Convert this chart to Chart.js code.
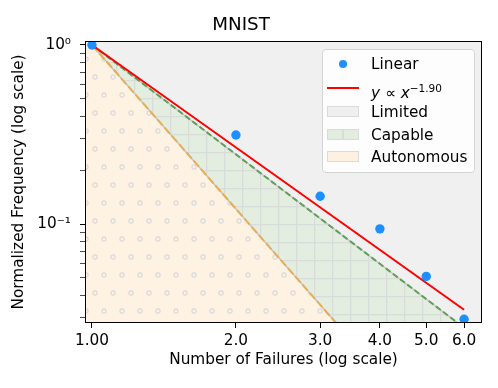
<!DOCTYPE html>
<html>
<head>
<meta charset="utf-8">
<script src="https://cdn.jsdelivr.net/npm/chart.js@4.4.1/dist/chart.umd.min.js"></script>
<style>
  body { margin: 0; background: #fff; }
  #wrap { position: relative; width: 498px; height: 388px; font-family: "DejaVu Sans", sans-serif; }
  #legend { position: absolute; left: 322px; top: 49px; width: 151px; height: 122px;
    border: 1px solid #d4d4d4; border-radius: 4px; background: rgba(255,255,255,0.85); }
  .row { position: absolute; left: 0; font-size: 15.3px; color: #000; }
  .lbl { position: absolute; left: 48px; white-space: nowrap; line-height: 18px; }
  .sw { position: absolute; left: 4px; width: 32px; height: 11px; border: 1px solid #dadada; box-sizing: border-box; }
  sup { font-size: 10.5px; vertical-align: 6px; }
</style>
</head>
<body>
<div id="wrap">
  <canvas id="chart" width="498" height="388"></canvas>
  <div id="legend">
    <div class="row" style="top:10px">
      <div style="position:absolute;left:16px;top:0;width:8px;height:8px;border-radius:50%;background:#1e8fff"></div>
      <div class="lbl" style="top:-5px">Linear</div>
    </div>
    <div class="row" style="top:37px">
      <div style="position:absolute;left:4px;top:0;width:32px;height:2px;background:#ff0000"></div>
      <div class="lbl" style="top:-8px"><i>y</i> ∝ <i>x</i><sup>−1.90</sup></div>
    </div>
    <div class="row" style="top:56px">
      <div class="sw" style="background:#efefef"></div>
      <div class="lbl" style="top:-3px">Limited</div>
    </div>
    <div class="row" style="top:79px">
      <div class="sw" style="background:linear-gradient(90deg,#e2ede0 47%,#d8dcd8 47%,#d8dcd8 53%,#e2ede0 53%)"></div>
      <div class="lbl" style="top:-3px">Capable</div>
    </div>
    <div class="row" style="top:101px">
      <div class="sw" style="background:#fdf2e1"></div>
      <div class="lbl" style="top:-3px">Autonomous</div>
    </div>
  </div>
</div>
<script>
// observed points
const failures = [1, 2, 3, 4, 5, 6];
const freqLinear = [1.0, 0.314, 0.143, 0.094, 0.051, 0.0294];

// power-law fit, y ∝ x^-1.90 (end points)
const fitX = [1, 6];
const fitY = [1, 0.0332];

// region boundaries
const capableX = [0.967, 1, 5.82];
const capableY = [1.07, 1, 0.028];
const autoX = [0.967, 1, 3.24];
const autoY = [1.107, 1, 0.028];

// axis limits and ticks
const xMin = 0.967, xMax = 6.54;
const yMin = 0.028, yMax = 1.053;
const xTicks = [1, 2, 3, 4, 5, 6];
const xTickLabels = ['1.00', '2.0', '3.0', '4.0', '5.0', '6.0'];
const yTicks = [0.03, 0.04, 0.05, 0.06, 0.07, 0.08, 0.09, 0.1, 0.2, 0.3, 0.4, 0.5, 0.6, 0.7, 0.8, 0.9, 1];
const yMajor = { 1: '10⁰', 0.1: '10⁻¹' };

const pts = (xs, ys) => xs.map((x, i) => ({ x, y: ys[i] }));
const FONT = 'DejaVu Sans';

function gridPattern(){
  const c = document.createElement('canvas'); c.width = 18; c.height = 18;
  const g = c.getContext('2d');
  g.fillStyle = '#e3eee1'; g.fillRect(0, 0, 18, 18);
  g.fillStyle = '#d9ddd9';
  g.fillRect(8, 0, 1.3, 18); g.fillRect(0, 8, 18, 1.3);
  return g.createPattern(c, 'repeat');
}
function dotPattern(){
  const c = document.createElement('canvas'); c.width = 18; c.height = 36;
  const g = c.getContext('2d');
  g.fillStyle = '#fef3e2'; g.fillRect(0, 0, 18, 36);
  g.strokeStyle = '#d9d8dc'; g.lineWidth = 1.2;
  for (const [cx, cy] of [[5, 5], [14, 23]]) {
    g.beginPath(); g.arc(cx, cy, 2.1, 0, Math.PI * 2); g.stroke();
  }
  return g.createPattern(c, 'repeat');
}

const frame = {
  id: 'frame',
  afterDatasetsDraw(chart){
    const { ctx, chartArea: a } = chart;
    ctx.save();
    ctx.strokeStyle = '#000'; ctx.lineWidth = 1;
    ctx.strokeRect(Math.round(a.left) + 0.5, Math.round(a.top) + 0.5, Math.round(a.right - a.left) - 1, Math.round(a.bottom - a.top) - 1);
    ctx.restore();
  }
};

new Chart(document.getElementById('chart'), {
  type: 'scatter',
  data: {
    datasets: [
      { label: 'Linear', data: pts(failures, freqLinear), backgroundColor: '#1e8fff', borderWidth: 0, pointRadius: 4.7, order: 0 },
      { label: 'fit', type: 'line', data: pts(fitX, fitY), borderColor: '#ff0000', borderWidth: 2, pointRadius: 0, fill: false, order: 1 },
      { label: 'capableEdgeDash', type: 'line', data: pts(capableX.slice(1), capableY.slice(1)), borderColor: '#5f9f59', borderDash: [6, 3], borderWidth: 2, pointRadius: 0, fill: false, order: 2 },
      { label: 'capableEdge', type: 'line', data: pts(capableX.slice(1), capableY.slice(1)), borderColor: '#c4c4c4', borderWidth: 1.5, pointRadius: 0, fill: false, order: 3 },
      { label: 'autoEdgeDash', type: 'line', data: pts(autoX.slice(1), autoY.slice(1)), borderColor: '#e8ad55', borderDash: [8, 3], borderWidth: 2, pointRadius: 0, fill: false, order: 2 },
      { label: 'autoEdge', type: 'line', data: pts(autoX.slice(1), autoY.slice(1)), borderColor: '#c4c4c4', borderWidth: 1.5, pointRadius: 0, fill: false, order: 3 },
      { label: 'Autonomous', type: 'line', data: pts(autoX, autoY), borderWidth: 0, pointRadius: 0, fill: 'start', backgroundColor: dotPattern(), order: 4 },
      { label: 'Capable', type: 'line', data: pts(capableX, capableY), borderWidth: 0, pointRadius: 0, fill: 'start', backgroundColor: gridPattern(), order: 5 },
      { label: 'Limited', type: 'line', data: pts([xMin, xMax], [yMin, yMin]), borderWidth: 0, pointRadius: 0, fill: 'end', backgroundColor: '#f0f0f0', order: 6 }
    ]
  },
  options: {
    responsive: false,
    animation: false,
    layout: { padding: { left: 0, right: 16, top: 0, bottom: 0 } },
    plugins: {
      legend: { display: false },
      tooltip: { enabled: false },
      title: { display: true, text: 'MNIST', color: '#000', font: { family: FONT, size: 18.3, weight: 'normal', lineHeight: 1.2 }, padding: { top: 14, bottom: 5 } }
    },
    scales: {
      x: {
        type: 'logarithmic', min: xMin, max: xMax,
        afterBuildTicks: s => { s.ticks = xTicks.map(v => ({ value: v })); },
        afterFit: s => { s.height = 65; },
        ticks: { autoSkip: false, maxRotation: 0, color: '#000', padding: 4, font: { family: FONT, size: 15.3 },
          callback: v => xTickLabels[xTicks.indexOf(v)] ?? '' },
        grid: { drawOnChartArea: false, tickLength: 5, tickColor: '#000' },
        border: { display: false },
        title: { display: true, text: 'Number of Failures (log scale)', color: '#000', font: { family: FONT, size: 15.3 }, padding: { top: 0, bottom: 19 } }
      },
      y: {
        type: 'logarithmic', min: yMin, max: yMax,
        afterBuildTicks: s => { s.ticks = yTicks.map(v => ({ value: v })); },
        afterFit: s => { s.width = 85; },
        ticks: { autoSkip: false, color: '#000', padding: 9, font: { family: FONT, size: 15.3 },
          callback: v => yMajor[v] ?? '' },
        grid: { drawOnChartArea: false, tickLength: 5, tickColor: '#000',
          tickWidth: c => (c.tick && yMajor[c.tick.value]) ? 1 : 0.7 },
        border: { display: false },
        title: { display: true, text: 'Normalized Frequency (log scale)', color: '#000', font: { family: FONT, size: 15.3 }, padding: { top: 10, bottom: 0 } }
      }
    }
  },
  plugins: [frame]
});
</script>
</body>
</html>
